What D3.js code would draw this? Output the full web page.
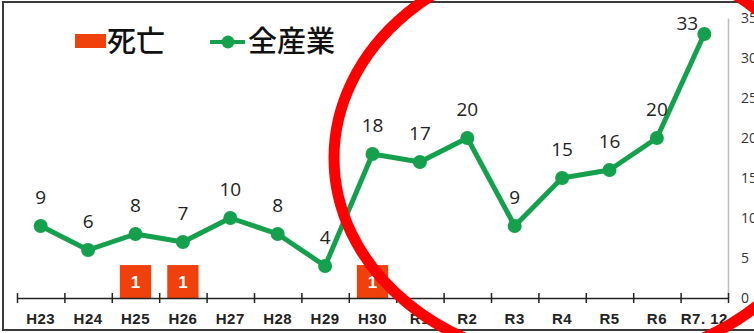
<!DOCTYPE html>
<html lang="ja">
<head>
    <meta charset="UTF-8">
    <title>死亡 / 全産業</title>
    <script src="https://d3js.org/d3.v7.min.js"></script>
    <style>
        body{ margin:0; background:#fff; }
        .num{ font-family:"Open Sans","Noto Sans",sans-serif; font-size:19px; fill:#222; }
        .xlab text{ font-family:"Liberation Sans",Arial,sans-serif; font-weight:bold; font-size:15px; fill:#222; letter-spacing:0.5px; }
        .yax text{ font-family:"Open Sans","Noto Sans",sans-serif; font-size:14px; fill:#333; }
        .legend text{ font-family:"Noto Sans CJK JP",sans-serif; font-size:29px; font-weight:500; fill:#111; }
    </style>
</head>
<body>
<svg id="chart" width="754" height="333"></svg>
<script>
    let years = ["H23","H24","H25","H26","H27","H28","H29","H30","R1","R2","R3","R4","R5","R6","R7. 12"]
    let allIndustry = [9,6,8,7,10,8,4,18,17,20,9,15,16,20,33]
    let deaths = [0,0,1,1,0,0,0,1,0,0,0,0,0,0,0]
    let yTicks = [0,5,10,15,20,25,30,35]

    let green = "#15a04e"
    let orange = "#f0400c"

    let svg = d3.select("#chart")

    // frame
    svg.append("rect")
        .attr("x",3).attr("y",2)
        .attr("width",800).attr("height",328)
        .attr("fill","#fff")
        .attr("stroke","#3a3a3a")
        .attr("stroke-width",2)

    let x = d3.scaleBand().domain(years).range([17,728])
    let xi = d3.scaleLinear().domain([0,years.length]).range([17,728])
    let y = d3.scaleLinear().domain([0,35]).range([298,18])
    let yBar = d3.scaleLinear().domain([0,8.5]).range([298,18])

    // right axis
    let yAx = svg.append("g")
        .attr("class","yax")
        .attr("transform","translate(728,0)")
        .call(d3.axisRight(y).tickValues(yTicks).tickSize(0).tickPadding(13))
    yAx.select(".domain").attr("stroke","#bdbdbd").attr("stroke-width",1.5)

    // bars
    let bars = deaths.map((d,i)=>({year:years[i], v:d})).filter(d=>d.v>0)
    svg.selectAll(".bar").data(bars).enter()
        .append("rect")
        .attr("class","bar")
        .attr("x",d=>x(d.year)+x.bandwidth()*0.17)
        .attr("width",x.bandwidth()*0.66)
        .attr("y",d=>yBar(d.v))
        .attr("height",d=>yBar(0)-yBar(d.v))
        .attr("fill",orange)
    svg.selectAll(".barlab").data(bars).enter()
        .append("text")
        .attr("x",d=>x(d.year)+x.bandwidth()/2)
        .attr("y",d=>(yBar(d.v)+yBar(0))/2+6)
        .attr("text-anchor","middle")
        .attr("font-family","Liberation Sans,Arial,sans-serif")
        .attr("font-weight","bold")
        .attr("font-size",17)
        .attr("fill","#fff")
        .text(d=>d.v)

    // x axis with ticks on band edges
    let xAx = svg.append("g")
        .attr("transform","translate(0,298)")
        .call(d3.axisBottom(xi).tickValues(d3.range(years.length+1)).tickFormat("").tickSizeOuter(0))
    xAx.select(".domain").attr("stroke","#222").attr("stroke-width",1.5)
    xAx.selectAll(".tick line").attr("y1",-5).attr("y2",5).attr("stroke","#222").attr("stroke-width",1.5)

    let xLab = svg.append("g")
        .attr("class","xlab")
        .attr("transform","translate(0,313)")
        .call(d3.axisBottom(x).tickSize(0).tickPadding(0))
    xLab.select(".domain").remove()

    // line
    let pts = allIndustry.map((d,i)=>({year:years[i], v:d}))
    let line = d3.line().x(d=>x(d.year)+x.bandwidth()/2).y(d=>y(d.v))
    svg.append("path")
        .datum(pts)
        .attr("d",line)
        .attr("fill","none")
        .attr("stroke",green)
        .attr("stroke-width",5)
        .attr("stroke-linejoin","round")
    svg.selectAll(".pt").data(pts).enter()
        .append("circle")
        .attr("cx",d=>x(d.year)+x.bandwidth()/2)
        .attr("cy",d=>y(d.v))
        .attr("r",7)
        .attr("fill",green)
    svg.selectAll(".num").data(pts).enter()
        .append("text")
        .attr("class","num")
        .attr("x",(d,i)=>x(d.year)+x.bandwidth()/2+(i===pts.length-1?-17:0))
        .attr("y",(d,i)=>y(d.v)+(i===pts.length-1?-4:-22))
        .attr("text-anchor","middle")
        .text(d=>d.v)

    // legend
    let lg = svg.append("g").attr("class","legend")
    lg.append("rect").attr("x",75).attr("y",34).attr("width",31).attr("height",14).attr("fill",orange)
    lg.append("text").attr("x",107).attr("y",52).text("死亡")
    lg.append("line").attr("x1",210).attr("x2",245).attr("y1",42).attr("y2",42)
        .attr("stroke",green).attr("stroke-width",4)
    lg.append("circle").attr("cx",228).attr("cy",42).attr("r",6.5).attr("fill",green)
    lg.append("text").attr("x",248).attr("y",52).text("全産業")

    // red circle annotation
    svg.append("ellipse")
        .attr("cx",584).attr("cy",158)
        .attr("rx",250).attr("ry",205)
        .attr("fill","none")
        .attr("stroke","#ff0000")
        .attr("stroke-width",11)
</script>
</body>
</html>
